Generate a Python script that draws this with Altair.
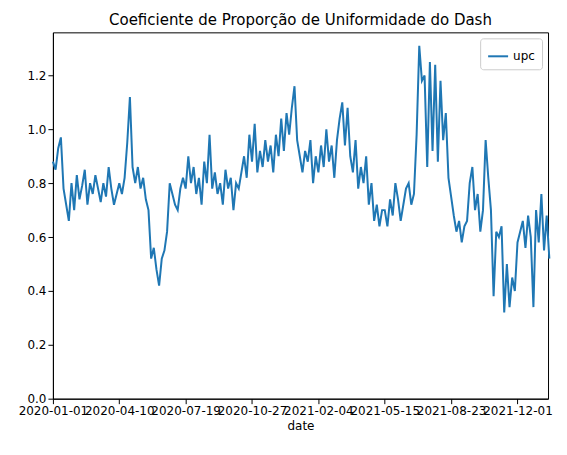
import altair as alt
import pandas as pd

# valores lidos a cada 4 dias a partir de 2020-01-01
upc = [
    0.88, 0.85, 0.93, 0.97, 0.78, 0.72, 0.66, 0.80, 0.70, 0.83, 0.74, 0.79, 0.85,
    0.72, 0.80, 0.76, 0.83, 0.78, 0.73, 0.80, 0.75, 0.86, 0.78, 0.72, 0.76,
    0.80, 0.76, 0.82, 0.95, 1.12, 0.86, 0.80, 0.86, 0.78, 0.82, 0.74, 0.70, 0.52,
    0.56, 0.48, 0.42, 0.52, 0.55, 0.62, 0.80, 0.76, 0.72, 0.70, 0.78, 0.82,
    0.78, 0.90, 0.80, 0.86, 0.76, 0.82, 0.72, 0.88, 0.80, 0.98, 0.78, 0.84, 0.76,
    0.80, 0.72, 0.85, 0.78, 0.82, 0.70, 0.80, 0.78, 0.84, 0.90, 0.82, 0.98,
    0.88, 1.02, 0.84, 0.92, 0.86, 0.96, 0.88, 0.94, 0.84, 0.98, 0.90, 1.04, 0.92,
    1.06, 0.98, 1.08, 1.16, 0.96, 0.90, 0.84, 0.92, 0.88, 0.96, 0.80, 0.90,
    0.84, 0.94, 0.86, 1.00, 0.88, 0.94, 0.82, 0.96, 1.04, 1.10, 0.94, 1.08, 0.90,
    0.84, 0.96, 0.78, 0.86, 0.80, 0.90, 0.72, 0.80, 0.66, 0.72, 0.64, 0.70,
    0.70, 0.64, 0.74, 0.68, 0.80, 0.74, 0.66, 0.72, 0.78, 0.80, 0.72, 0.76, 0.98,
    1.31, 1.18, 1.20, 0.86, 1.25, 0.92, 1.24, 0.88, 1.18, 0.96, 1.06, 0.82,
    0.75, 0.68, 0.62, 0.66, 0.58, 0.64, 0.66, 0.80, 0.86, 0.70, 0.76, 0.62, 0.70,
    0.96, 0.82, 0.70, 0.38, 0.62, 0.60, 0.64, 0.32, 0.50, 0.34, 0.45, 0.40, 0.58,
    0.62, 0.66, 0.56, 0.68, 0.60, 0.34, 0.70, 0.58, 0.76, 0.55, 0.68, 0.52,
]
tick_dates = ["2020-01-01", "2020-04-10", "2020-07-19", "2020-10-27",
              "2021-02-04", "2021-05-15", "2021-08-23", "2021-12-01"]

df = pd.DataFrame({
    "date": pd.date_range("2020-01-01", periods=len(upc), freq="4D"),
    "upc": upc,
})
df["serie"] = "upc"

tick_vals = [alt.DateTime(year=int(d[:4]), month=int(d[5:7]), date=int(d[8:])) for d in tick_dates]

chart = alt.Chart(df).mark_line(strokeWidth=2).encode(
    x=alt.X("date:T", title="date",
            scale=alt.Scale(domain=[alt.DateTime(year=2020, month=1, date=1),
                                    alt.DateTime(year=2022, month=1, date=16)]),
            axis=alt.Axis(values=tick_vals, format="%Y-%m-%d", labelAngle=0,
                          labelOverlap=False, labelFlush=False, labelBound=False,
                          grid=False, labelFontSize=12)),
    y=alt.Y("upc:Q", title=None,
            scale=alt.Scale(domain=[0, 1.36], nice=False),
            axis=alt.Axis(values=[0, 0.2, 0.4, 0.6, 0.8, 1.0, 1.2], format=".1f",
                          grid=False, labelFontSize=12)),
    color=alt.Color("serie:N", scale=alt.Scale(range=["#1f77b4"]),
                    legend=alt.Legend(title=None, orient="top-right", symbolType="stroke",
                                      symbolSize=400, symbolStrokeWidth=2,
                                      strokeColor="#cccccc", padding=7, cornerRadius=3,
                                      labelFontSize=12, fillColor="white", offset=6)),
).properties(
    width=496, height=367,
    padding={"left": 10, "top": 5, "right": 5, "bottom": 5},
    title=alt.TitleParams("Coeficiente de Proporção de Uniformidade do Dash",
                          fontSize=15, fontWeight="normal"),
).configure(font="DejaVu Sans").configure_view(stroke="black").configure_axis(
    domainColor="black", tickColor="black", labelColor="black", titleColor="black",
    titleFontWeight="normal", titleFontSize=12
)

chart.save("out.html", embed_options={"renderer": "svg", "actions": False})
